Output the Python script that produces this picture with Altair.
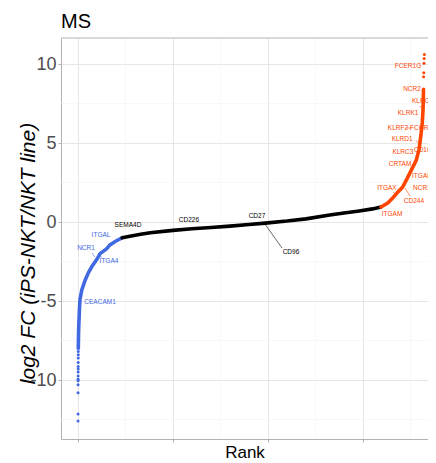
import altair as alt
import pandas as pd

FONT = "Liberation Sans, Arial, sans-serif"

# ---- curve (rank, log2 FC) ----
down_rank = [15, 25, 40, 60, 80, 105, 200, 370, 550, 740, 1000, 1160, 1500, 1680, 2000, 2320]
down_fc = [-8.0, -7.3, -6.6, -6.0, -5.4, -4.9, -4.3, -3.7, -3.2, -2.8, -2.35, -2.0, -1.7, -1.45, -1.2, -1.0]

mid_rank = [2320, 2800, 3300, 3800, 5000, 6000, 7000, 8000, 9000, 9850, 11000, 12000, 13250, 14000, 14800, 15500, 15950]
mid_fc = [-1.0, -0.88, -0.78, -0.68, -0.53, -0.43, -0.35, -0.26, -0.16, -0.07, 0.06, 0.2, 0.44, 0.57, 0.7, 0.83, 0.95]

up_rank = [15950, 16300, 16550, 16800, 17080, 17300, 17550, 17800, 17950, 18050, 18120, 18160, 18185]
up_fc = [0.95, 1.2, 1.5, 1.85, 2.2, 2.7, 3.3, 3.9, 4.6, 5.5, 6.3, 7.1, 8.4]

# sparse extreme genes
tail_down_rank = [1, 2, 3, 4, 5, 6, 7, 8, 9, 10, 11, 12, 13, 14]
tail_down_fc = [-12.6, -12.15, -10.8, -10.3, -10.05, -9.95, -9.75, -9.5, -9.3, -9.15, -8.9, -8.6, -8.4, -8.2]
tail_up_rank = [18190, 18200, 18210, 18220, 18230]
tail_up_fc = [9.2, 9.45, 10.05, 10.35, 10.6]

# ---- gene labels (label centres) ----
lab_gene = ["FCER1G", "NCR2", "KLRC1", "KLRK1", "KLRF2", "FCGR3A", "KLRD1", "CD160", "KLRC3",
            "CRTAM", "ITGAD", "ITGAX", "NCR3", "CD244", "ITGAM",
            "ITGAL", "NCR1", "ITGA4", "CEACAM1",
            "SEMA4D", "CD226", "CD27", "CD96"]
lab_rank = [17370, 17580, 18131, 17370, 16840, 18167, 17060, 18215, 17100,
            16950, 18105, 16260, 18100, 17680, 16530,
            1210, 420, 1630, 1160,
            2630, 5840, 9420, 11210]
lab_fc = [9.87, 8.4, 7.65, 6.9, 5.95, 5.95, 5.25, 4.55, 4.4,
          3.65, 2.9, 2.15, 2.15, 1.33, 0.5,
          -0.82, -1.65, -2.45, -5.06,
          -0.19, 0.13, 0.38, -1.9]
lab_group = ["up"] * 15 + ["down"] * 4 + ["mid"] * 4

# leader segments
seg_rank = [18160, 17260, 17790, 16580, 17210, 737, 1053, 9840]
seg_fc = [7.09, 5.95, 5.13, 1.9, 2.15, -1.96, -1.96, -0.13]
seg_rank2 = [18000, 17540, 18000, 16790, 17470, 895, 1263, 10740]
seg_fc2 = [7.35, 5.95, 4.95, 1.65, 1.65, -2.22, -2.28, -1.65]
seg_group = ["up", "up", "up", "up", "up", "down", "down", "mid"]

title_text = ["MS"]
x_ticks = [0, 5000, 10000, 15000]
x_minor = [2500, 7500, 12500, 17500]
y_ticks = [-10, -5, 0, 5, 10]
y_minor = [-12.5, -7.5, -2.5, 2.5, 7.5]

# ---- tables ----
curve = pd.DataFrame({
    "rank": down_rank + mid_rank + up_rank,
    "fc": down_fc + mid_fc + up_fc,
    "group": ["down"] * len(down_rank) + ["mid"] * len(mid_rank) + ["up"] * len(up_rank),
})
tails = pd.DataFrame({
    "rank": tail_down_rank + tail_up_rank,
    "fc": tail_down_fc + tail_up_fc,
    "group": ["down"] * len(tail_down_rank) + ["up"] * len(tail_up_rank),
})
labels = pd.DataFrame({"rank": lab_rank, "fc": lab_fc, "gene": lab_gene, "group": lab_group})
segs = pd.DataFrame({"rank": seg_rank, "fc": seg_fc, "rank2": seg_rank2, "fc2": seg_fc2, "group": seg_group})

W, H = 367, 401
xs = alt.Scale(domain=[-895, 18421], nice=False, zero=False)
ys = alt.Scale(domain=[-13.734, 11.646], nice=False, zero=False)
cs = alt.Scale(domain=["down", "mid", "up"], range=["#4169E1", "#000000", "#FF4500"])

GRID = "#e6e6e6"
FRAME = "#b3b3b3"

x_axis = alt.Axis(values=x_ticks, labels=False, title="Rank", tickSize=3, tickColor=FRAME,
                  domainColor=FRAME, gridColor=GRID, titleFont=FONT, titleFontSize=17,
                  titleFontWeight="normal", titleColor="black", titleBaseline="alphabetic", titleY=18)
y_axis = alt.Axis(values=y_ticks, title="log2 FC (iPS-NKT/NKT line)", tickSize=3, tickColor=FRAME,
                  domainColor=FRAME, gridColor=GRID, labelFont=FONT, labelFontSize=18,
                  labelColor="#4d4d4d", labelPadding=2, labelExpr="'' + datum.value",
                  titleFont=FONT, titleFontSize=21, titleFontStyle="italic", titleFontWeight="normal",
                  titleColor="black", titleX=-33, titleY=215, titleBaseline="middle", titleAlign="center")

X = lambda f: alt.X(f, scale=xs, axis=x_axis)
Y = lambda f: alt.Y(f, scale=ys, axis=y_axis)

minor_x = alt.Chart(pd.DataFrame({"rank": x_minor})).mark_rule(color="#f3f3f3", strokeWidth=0.6).encode(
    x=X("rank:Q"))
minor_y = alt.Chart(pd.DataFrame({"fc": y_minor})).mark_rule(color="#f3f3f3", strokeWidth=0.6).encode(
    y=Y("fc:Q"))
top_border = alt.Chart(pd.DataFrame({"fc": [0]})).mark_rule(color=FRAME, strokeWidth=1).encode(
    x=alt.value(0), x2=alt.value(W), y=alt.value(0))

lines = alt.Chart(curve).mark_line(strokeWidth=3.6, strokeCap="round").encode(
    x=X("rank:Q"), y=Y("fc:Q"), color=alt.Color("group:N", scale=cs, legend=None))
dots = alt.Chart(tails).mark_circle(size=9, opacity=1).encode(
    x=X("rank:Q"), y=Y("fc:Q"), color=alt.Color("group:N", scale=cs, legend=None))
leaders = alt.Chart(segs).mark_rule(strokeWidth=0.6).encode(
    x=X("rank:Q"), y=Y("fc:Q"), x2="rank2:Q", y2="fc2:Q",
    color=alt.Color("group:N", scale=cs, legend=None))
texts = alt.Chart(labels).mark_text(font=FONT, fontSize=6.5).encode(
    x=X("rank:Q"), y=Y("fc:Q"), text="gene:N",
    color=alt.Color("group:N", scale=cs, legend=None))
title = alt.Chart(pd.DataFrame({"t": title_text})).mark_text(
    font=FONT, fontSize=20, align="left", baseline="alphabetic", color="black").encode(
    x=alt.value(0), y=alt.value(-10), text="t:N")

chart = alt.layer(minor_x, minor_y, top_border, lines, dots, leaders, texts, title).properties(
    width=W, height=H,
    autosize=alt.AutoSizeParams(type="none"),
    padding={"left": 53, "top": 30, "right": 0, "bottom": 23},
).configure_view(stroke=None)

chart.save("out.html", embed_options={"renderer": "svg", "actions": False})
